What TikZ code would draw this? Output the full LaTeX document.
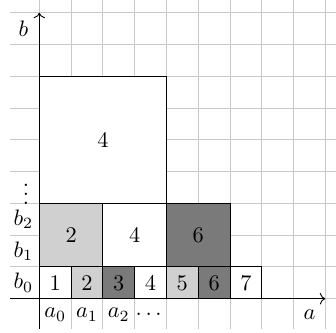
\documentclass[tikz,border=0pt]{standalone}
\usepackage{amsmath}
\usepackage{tikz}
\usetikzlibrary{arrows.meta, positioning}
\definecolor{CellLight}{RGB}{208,208,208}
\definecolor{CellDark}{RGB}{122,122,122}
\definecolor{GridGray}{RGB}{200,200,200}

\begin{document}
\begin{tikzpicture}[x=0.5cm, y=0.5cm,
	cell/.style={rectangle, draw=black, inner sep=0pt, minimum size=5mm},
	wide/.style={cell, minimum size=10mm},
	big/.style={cell, minimum size=20mm}]
	\useasboundingbox (-1.237,-1.048) rectangle (9.336,9.40);
	% rejilla
	\draw[GridGray, step=1] (-0.92,-0.95) grid (9.34,9.4);
	% fila b0
	\foreach \i/\f in {1/white, 2/CellLight, 3/CellDark, 4/white, 5/CellLight, 6/CellDark, 7/white}
		{\node[cell, fill=\f] (r\i) at (\i-0.5,0.5) {\i};}
	% filas b1, b2
	\foreach \i/\f in {2/CellLight, 4/white, 6/CellDark}
		{\node[wide, fill=\f] (s\i) at (\i-1,2) {\i};}
	% bloque grande
	\node[big, fill=white] (t4) at (2,5) {4};
	% ejes
	\draw[->] (-0.92,0) -- (9,0);
	\draw[->] (0,-0.95) -- (0,9);
	\node (alab) at (8.5,-0.5) {$a$};
	\node (blab) at (-0.5,8.5) {$b$};
	\foreach \i in {0,1,2}
		{\node (a\i) at (\i+0.5,-0.5) {$a_\i$};
		 \node (b\i) at (-0.5,\i+0.5) {$b_\i$};}
	\node (adots) at (3.5,-0.5) {$\dots$};
	\node (bdots) at (-0.42,3.5) {$\vdots$};
\end{tikzpicture}
\end{document}
